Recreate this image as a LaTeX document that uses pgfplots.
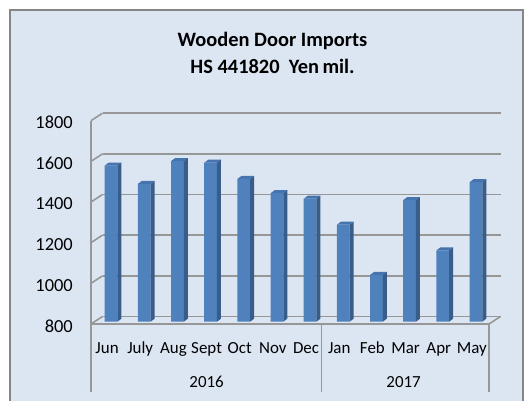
\documentclass[border=0pt]{standalone}
\usepackage{pgfplots}
\usepackage{pgfplotstable}
\pgfplotsset{compat=1.18}
\usepackage{fontspec}
\setmainfont{Carlito}
\definecolor{bgblue}{HTML}{DCE6F2}
\definecolor{framegray}{HTML}{868686}
\definecolor{gridgray}{HTML}{979797}
\definecolor{barfront}{HTML}{4F81BD}
\definecolor{barside}{HTML}{385D8A}
\definecolor{bartop}{HTML}{4674AE}

\pgfplotstableread{
x v
0 1568
1 1478
2 1590
3 1582
4 1502
5 1432
6 1405
7 1277
8 1030
9 1398
10 1151
11 1486
}\datatable

\pgfdeclareplotmark{bar3d}{%
  \pgfmathsetmacro\hh{(\rawy-800)*0.2033}%
  \pgfsetfillcolor{bartop}%
  \pgfpathmoveto{\pgfpoint{-6.35bp}{0bp}}%
  \pgfpathlineto{\pgfpoint{6.35bp}{0bp}}%
  \pgfpathlineto{\pgfpoint{10.35bp}{3bp}}%
  \pgfpathlineto{\pgfpoint{-2.35bp}{3bp}}%
  \pgfpathclose\pgfusepath{fill}%
  \pgfsetfillcolor{barside}%
  \pgfpathmoveto{\pgfpoint{6.35bp}{0bp}}%
  \pgfpathlineto{\pgfpoint{10.35bp}{3bp}}%
  \pgfpathlineto{\pgfpoint{10.35bp}{3bp-\hh bp}}%
  \pgfpathlineto{\pgfpoint{6.35bp}{-\hh bp}}%
  \pgfpathclose\pgfusepath{fill}%
}

\tikzset{gline/.style={draw=gridgray, line width=1.6bp}}

\begin{document}
\begin{tikzpicture}
\useasboundingbox (0,0) rectangle (526bp,401bp);
\fill[white] (0,0) rectangle (526bp,401bp);
\draw[fill=bgblue, draw=framegray, line width=2bp] (10bp,-10bp) rectangle (522.5bp,391bp);

\node[anchor=base, font=\bfseries\fontsize{20.5}{22}\selectfont] at (272.5bp,354.3bp) {Wooden Door Imports};
\node[anchor=base, font=\bfseries\fontsize{20.5}{22}\selectfont] at (272.5bp,327.7bp) {HS 441820\ \ Yen\,mil.};

\begin{axis}[
  at={(94.5bp,79.3bp)}, anchor=south west,
  scale only axis, width=398bp, height=203.3bp,
  xmin=-0.5, xmax=11.5, ymin=800, ymax=1800,
  axis line style={draw=none},
  major tick length=0pt,
  ytick={800,1000,1200,1400,1600,1800},
  xtick={0,...,11},
  xticklabels={Jun,July,Aug,Sept,Oct,Nov,Dec,Jan,Feb,Mar,Apr,May},
  ymajorgrids,
  major grid style={gridgray, line width=1.6bp, xshift=8bp, yshift=5.2bp},
  /pgf/number format/assume math mode=true,
  /pgf/number format/1000 sep={},
  yticklabel style={font=\fontsize{18.5}{20}\selectfont, anchor=east, inner sep=0pt, xshift=-21.5bp, yshift=-4.3bp},
  xticklabel style={font=\fontsize{17}{20}\selectfont, anchor=base, inner sep=0pt, xshift=-4bp, yshift=-31.6bp},
  clip=false,
]
% front left axis with diagonal ticks to the back wall
\draw[gline] ([shift={(-3.5bp,-2.3bp)}]axis cs:-0.5,800) -- ([shift={(-3.5bp,-2.3bp)}]axis cs:-0.5,1800);
\pgfplotsinvokeforeach{800,1000,1200,1400,1600,1800}{
  \draw[gline] ([shift={(-3.5bp,-2.3bp)}]axis cs:-0.5,#1) -- ([shift={(8bp,5.2bp)}]axis cs:-0.5,#1);
}
% floor
\draw[gline] ([shift={(-3.5bp,-2.3bp)}]axis cs:-0.5,800) -- ([shift={(-3.5bp,-2.3bp)}]axis cs:11.5,800) -- ([shift={(8bp,5.2bp)}]axis cs:11.5,800);
% category separators
\draw[gline] ([shift={(-3.5bp,-2.3bp)}]axis cs:-0.5,800) -- ([shift={(-3.5bp,-70.3bp)}]axis cs:-0.5,800);
\draw[gline] ([shift={(-5bp,-2.3bp)}]axis cs:6.5,800) -- ([shift={(-5bp,-70.3bp)}]axis cs:6.5,800);
\draw[gline] ([shift={(-3.5bp,-2.3bp)}]axis cs:11.5,800) -- ([shift={(-3.5bp,-70.3bp)}]axis cs:11.5,800);
% year labels
\node[anchor=base, font=\fontsize{17}{20}\selectfont] at ([shift={(-4bp,-65.3bp)}]axis cs:3,800) {2016};
\node[anchor=base, font=\fontsize{17}{20}\selectfont] at ([shift={(-6bp,-65.3bp)}]axis cs:9,800) {2017};

\addplot[ybar, bar width=12.7bp, fill=barfront, draw=none] table[x=x, y=v] {\datatable};
\addplot[only marks, mark=bar3d, visualization depends on={rawy \as \rawy}]
  table[x=x, y=v] {\datatable};
\end{axis}
\end{tikzpicture}
\end{document}
